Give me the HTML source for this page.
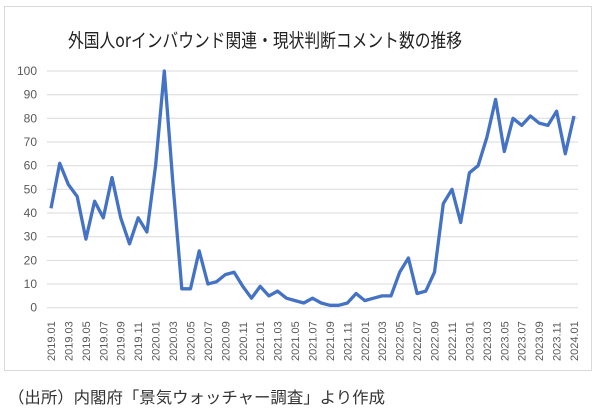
<!DOCTYPE html>
<html><head><meta charset="utf-8"><style>
body{margin:0;background:#fff;}
svg{display:block;}
</style></head><body>
<svg width="600" height="414" xmlns="http://www.w3.org/2000/svg" font-family="Liberation Sans, Noto Sans CJK JP, sans-serif">
<rect x="4.5" y="6.5" width="587" height="364" fill="#fff" stroke="#d9d9d9" stroke-width="1"/>
<text x="265" y="47" font-size="19" text-anchor="middle" fill="#222" textLength="394" lengthAdjust="spacingAndGlyphs" font-family="Noto Sans CJK JP, sans-serif">外国人orインバウンド関連・現状判断コメント数の推移</text>
<g id="grid" stroke="#d9d9d9" stroke-width="1"></g>
<g id="ylab" font-size="12" fill="#595959" text-anchor="end"></g>
<g id="xlab" font-size="11" fill="#595959"></g>
<polyline id="line" fill="none" stroke="#4472c4" stroke-width="3.3" stroke-linejoin="round"/>
<text x="8" y="403" font-size="16" fill="#333" textLength="377" lengthAdjust="spacingAndGlyphs" font-family="Noto Sans CJK JP, sans-serif">（出所）内閣府「景気ウォッチャー調査」より作成</text>
</svg>
<script>
var d=[42,61,52,47,29,45,38,55,38,27,38,32,60,100,52,8,8,24,10,11,14,15,9,4,9,5,7,4,3,2,4,2,1,1,2,6,3,4,5,5,15,21,6,7,15,44,50,36,57,60,72,88,66,80,77,81,78,77,83,65,81];
var ns="http://www.w3.org/2000/svg";
function Y(v){return 307.7-v*2.367;}
function X(i){return 51+i*8.717;}
var g=document.getElementById('grid'),yl=document.getElementById('ylab'),xl=document.getElementById('xlab');
for(var v=0;v<=100;v+=10){var l=document.createElementNS(ns,'line');l.setAttribute('x1',47);l.setAttribute('x2',578);l.setAttribute('y1',Y(v).toFixed(1));l.setAttribute('y2',Y(v).toFixed(1));g.appendChild(l);
var t=document.createElementNS(ns,'text');t.setAttribute('x',37);t.setAttribute('y',(Y(v)+4).toFixed(1));t.textContent=v;yl.appendChild(t);}
var p=d.map(function(v,i){return X(i).toFixed(1)+','+Y(v).toFixed(1)}).join(' ');
document.getElementById('line').setAttribute('points',p);
for(var i=0;i<61;i+=2){var yr=2019+Math.floor(i/12),m=i%12+1;var t=document.createElementNS(ns,'text');
var x=X(i)+4;t.setAttribute('transform','translate('+x.toFixed(1)+',361) rotate(-90)');t.textContent=yr+'.'+(m<10?'0':'')+m;xl.appendChild(t);}
</script>
</body></html>
